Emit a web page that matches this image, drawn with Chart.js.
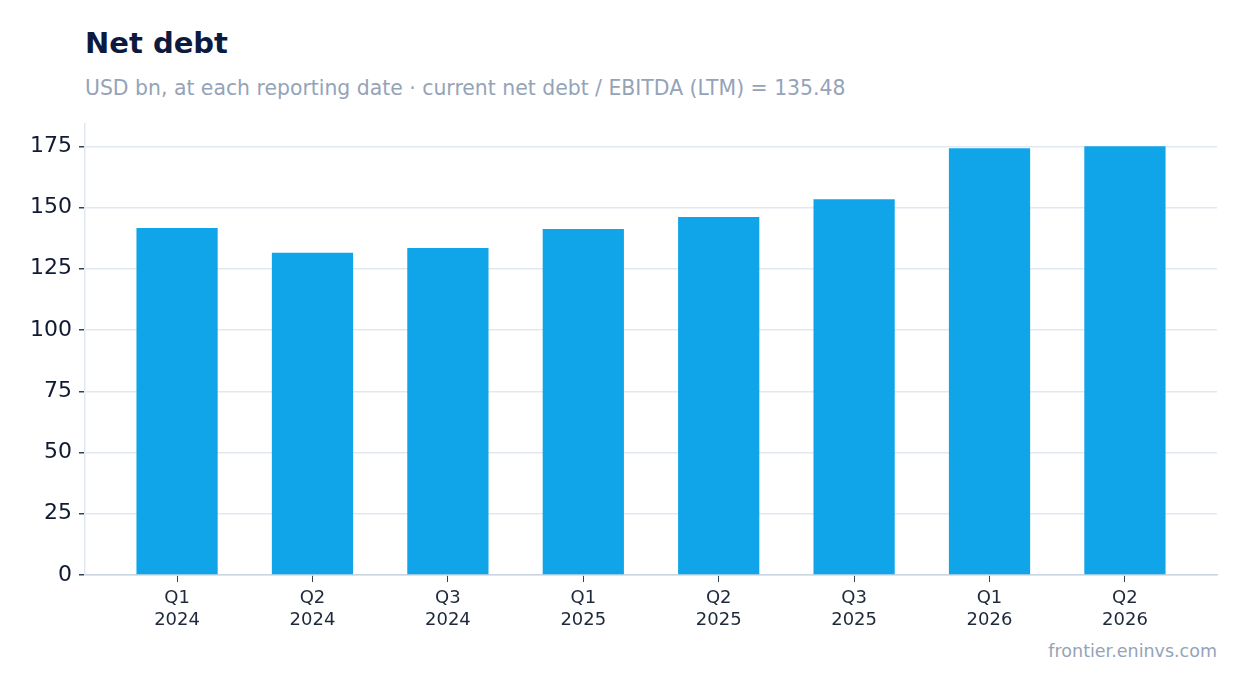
<!DOCTYPE html>
<html>
<head>
<meta charset="utf-8">
<script src="https://cdn.jsdelivr.net/npm/chart.js@4/dist/chart.umd.min.js"></script>
<style>
  body { margin: 0; background: #fff; font-family: 'DejaVu Sans', sans-serif; }
  #wrap { position: relative; width: 1247px; height: 693px; }
  #title { position: absolute; left: 85px; top: 26px; font-size: 29px; font-weight: bold; color: #0c1a40; white-space: nowrap; }
  #sub { position: absolute; left: 85px; top: 76px; font-size: 20.4px; color: #94a3b8; white-space: nowrap; }
  #box { position: absolute; left: 0; top: 104px; width: 1247px; height: 537px; }
  #foot { position: absolute; right: 30px; top: 641px; font-size: 17.5px; color: #94a3b8; }
</style>
</head>
<body>
<div id="wrap">
  <div id="title">Net debt</div>
  <div id="sub">USD bn, at each reporting date · current net debt / EBITDA (LTM) = 135.48</div>
  <div id="box"><canvas id="myChart"></canvas></div>
  <div id="foot">frontier.eninvs.com</div>
</div>
<script>
'use strict';

// data
let quarters = ['Q1', 'Q2', 'Q3', 'Q1', 'Q2', 'Q3', 'Q1', 'Q2'];
let years = ['2024', '2024', '2024', '2025', '2025', '2025', '2026', '2026'];
let netDebt = [141.6, 131.5, 133.5, 141.2, 146.1, 153.4, 174.2, 175.0];
let yTicks = [0, 25, 50, 75, 100, 125, 150, 175];
let yMax = 184;

// bars sit on index positions, axis has some margin either side
let points = [];
let xTicks = [];
for (let i = 0; i < netDebt.length; i++) {
  points.push({ x: i, y: netDebt[i] });
  xTicks.push(i);
}
let xMargin = 0.68;

let ctx = document.getElementById('myChart').getContext('2d');
let myChart = new Chart(ctx, {
  type: 'bar',
  data: {
    datasets: [{
      label: 'Net debt',
      data: points,
      backgroundColor: '#10a5e8',
      borderWidth: 0,
      barPercentage: 0.6,
      categoryPercentage: 1,
    }],
  },
  options: {
    responsive: true,
    maintainAspectRatio: false,
    animation: false,
    layout: { padding: { left: 0, right: 30, top: 4, bottom: 0 } },
    plugins: {
      legend: { display: false },
      tooltip: { enabled: false },
    },
    scales: {
      x: {
        type: 'linear',
        offset: false,
        min: -xMargin,
        max: netDebt.length - 1 + xMargin,
        afterBuildTicks: function (scale) {
          scale.ticks = xTicks.map(function (v) { return { value: v }; });
        },
        grid: { offset: false, drawOnChartArea: false, tickColor: '#334155', tickLength: 7 },
        border: { color: '#cbd5e1', width: 1.5 },
        ticks: {
          color: '#1e293b',
          font: { family: 'DejaVu Sans', size: 18 },
          padding: 6,
          maxRotation: 0,
          autoSkip: false,
          callback: function (value) {
            return [quarters[value], years[value]];
          },
        },
        afterFit: function (scale) { scale.height = 66; },
      },
      y: {
        min: 0,
        max: yMax,
        afterBuildTicks: function (scale) {
          scale.ticks = yTicks.map(function (v) { return { value: v }; });
        },
        grid: { color: '#e2e8f0', lineWidth: 1.5, tickColor: '#334155', tickLength: 6 },
        border: { color: '#e2e8f0', width: 1.5 },
        ticks: {
          color: '#111a33',
          font: { family: 'DejaVu Sans', size: 22 },
          padding: 7,
        },
        afterFit: function (scale) { scale.width = 85; },
      },
    },
  },
});
</script>
</body>
</html>
